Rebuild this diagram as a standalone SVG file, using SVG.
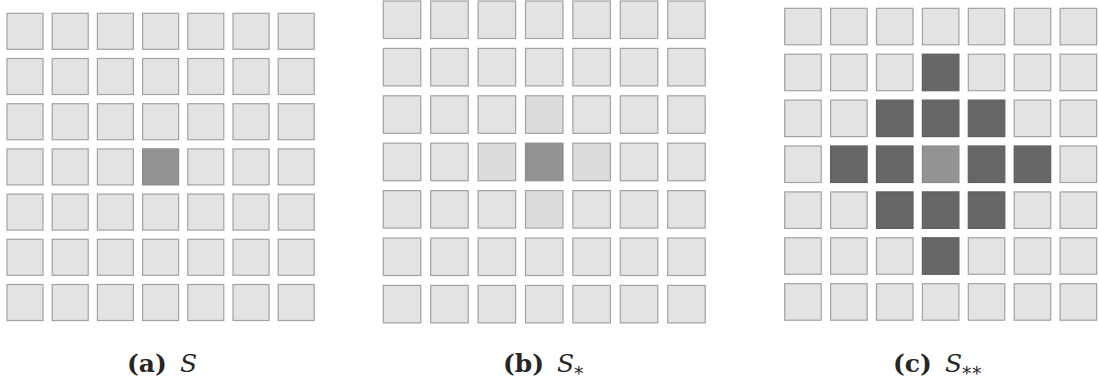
<svg xmlns="http://www.w3.org/2000/svg" width="1099" height="385" viewBox="0 0 1099 385">
<style>
rect{fill:#e3e3e3;stroke:#a2a2a2;stroke-width:1.2}
.a rect{width:36px;height:36px}
.b rect{width:37.5px;height:37.5px}
.c rect{width:36.5px;height:36.5px}
rect.m{fill:#939393;stroke:#8a8a8a}
rect.n{fill:#dcdcdc}
rect.d{fill:#676767;stroke:#5e5e5e}
text{font-family:"DejaVu Serif","Liberation Serif",serif;font-size:25px;fill:#262626}
.lb{font-weight:bold}
.it{font-style:italic}
.sub{font-size:18px}
</style>
<rect width="1099" height="385" style="fill:#fff;stroke:none"/>
<g id="panel-a" class="a">
<rect x="7" y="13.3"/><rect x="52.2" y="13.3"/><rect x="97.4" y="13.3"/><rect x="142.6" y="13.3"/><rect x="187.8" y="13.3"/><rect x="233" y="13.3"/><rect x="278.2" y="13.3"/>
<rect x="7" y="58.5"/><rect x="52.2" y="58.5"/><rect x="97.4" y="58.5"/><rect x="142.6" y="58.5"/><rect x="187.8" y="58.5"/><rect x="233" y="58.5"/><rect x="278.2" y="58.5"/>
<rect x="7" y="103.7"/><rect x="52.2" y="103.7"/><rect x="97.4" y="103.7"/><rect x="142.6" y="103.7"/><rect x="187.8" y="103.7"/><rect x="233" y="103.7"/><rect x="278.2" y="103.7"/>
<rect x="7" y="148.9"/><rect x="52.2" y="148.9"/><rect x="97.4" y="148.9"/><rect class="m" x="142.6" y="148.9"/><rect x="187.8" y="148.9"/><rect x="233" y="148.9"/><rect x="278.2" y="148.9"/>
<rect x="7" y="194.1"/><rect x="52.2" y="194.1"/><rect x="97.4" y="194.1"/><rect x="142.6" y="194.1"/><rect x="187.8" y="194.1"/><rect x="233" y="194.1"/><rect x="278.2" y="194.1"/>
<rect x="7" y="239.3"/><rect x="52.2" y="239.3"/><rect x="97.4" y="239.3"/><rect x="142.6" y="239.3"/><rect x="187.8" y="239.3"/><rect x="233" y="239.3"/><rect x="278.2" y="239.3"/>
<rect x="7" y="284.5"/><rect x="52.2" y="284.5"/><rect x="97.4" y="284.5"/><rect x="142.6" y="284.5"/><rect x="187.8" y="284.5"/><rect x="233" y="284.5"/><rect x="278.2" y="284.5"/>
</g>
<g id="panel-b" class="b">
<rect x="383.3" y="1"/><rect x="430.7" y="1"/><rect x="478.1" y="1"/><rect x="525.5" y="1"/><rect x="572.9" y="1"/><rect x="620.3" y="1"/><rect x="667.7" y="1"/>
<rect x="383.3" y="48.4"/><rect x="430.7" y="48.4"/><rect x="478.1" y="48.4"/><rect x="525.5" y="48.4"/><rect x="572.9" y="48.4"/><rect x="620.3" y="48.4"/><rect x="667.7" y="48.4"/>
<rect x="383.3" y="95.8"/><rect x="430.7" y="95.8"/><rect x="478.1" y="95.8"/><rect class="n" x="525.5" y="95.8"/><rect x="572.9" y="95.8"/><rect x="620.3" y="95.8"/><rect x="667.7" y="95.8"/>
<rect x="383.3" y="143.2"/><rect x="430.7" y="143.2"/><rect class="n" x="478.1" y="143.2"/><rect class="m" x="525.5" y="143.2"/><rect class="n" x="572.9" y="143.2"/><rect x="620.3" y="143.2"/><rect x="667.7" y="143.2"/>
<rect x="383.3" y="190.6"/><rect x="430.7" y="190.6"/><rect x="478.1" y="190.6"/><rect class="n" x="525.5" y="190.6"/><rect x="572.9" y="190.6"/><rect x="620.3" y="190.6"/><rect x="667.7" y="190.6"/>
<rect x="383.3" y="238"/><rect x="430.7" y="238"/><rect x="478.1" y="238"/><rect x="525.5" y="238"/><rect x="572.9" y="238"/><rect x="620.3" y="238"/><rect x="667.7" y="238"/>
<rect x="383.3" y="285.4"/><rect x="430.7" y="285.4"/><rect x="478.1" y="285.4"/><rect x="525.5" y="285.4"/><rect x="572.9" y="285.4"/><rect x="620.3" y="285.4"/><rect x="667.7" y="285.4"/>
</g>
<g id="panel-c" class="c">
<rect x="784.7" y="8.3"/><rect x="830.6" y="8.3"/><rect x="876.5" y="8.3"/><rect x="922.4" y="8.3"/><rect x="968.3" y="8.3"/><rect x="1014.2" y="8.3"/><rect x="1060.1" y="8.3"/>
<rect x="784.7" y="54.2"/><rect x="830.6" y="54.2"/><rect x="876.5" y="54.2"/><rect class="d" x="922.4" y="54.2"/><rect x="968.3" y="54.2"/><rect x="1014.2" y="54.2"/><rect x="1060.1" y="54.2"/>
<rect x="784.7" y="100.1"/><rect x="830.6" y="100.1"/><rect class="d" x="876.5" y="100.1"/><rect class="d" x="922.4" y="100.1"/><rect class="d" x="968.3" y="100.1"/><rect x="1014.2" y="100.1"/><rect x="1060.1" y="100.1"/>
<rect x="784.7" y="146"/><rect class="d" x="830.6" y="146"/><rect class="d" x="876.5" y="146"/><rect class="m" x="922.4" y="146"/><rect class="d" x="968.3" y="146"/><rect class="d" x="1014.2" y="146"/><rect x="1060.1" y="146"/>
<rect x="784.7" y="191.9"/><rect x="830.6" y="191.9"/><rect class="d" x="876.5" y="191.9"/><rect class="d" x="922.4" y="191.9"/><rect class="d" x="968.3" y="191.9"/><rect x="1014.2" y="191.9"/><rect x="1060.1" y="191.9"/>
<rect x="784.7" y="237.8"/><rect x="830.6" y="237.8"/><rect x="876.5" y="237.8"/><rect class="d" x="922.4" y="237.8"/><rect x="968.3" y="237.8"/><rect x="1014.2" y="237.8"/><rect x="1060.1" y="237.8"/>
<rect x="784.7" y="283.7"/><rect x="830.6" y="283.7"/><rect x="876.5" y="283.7"/><rect x="922.4" y="283.7"/><rect x="968.3" y="283.7"/><rect x="1014.2" y="283.7"/><rect x="1060.1" y="283.7"/>
</g>
<g id="captions">
<text x="127" y="372"><tspan class="lb">(a)</tspan><tspan class="it" x="180">S</tspan></text>
<text x="503" y="372"><tspan class="lb">(b)</tspan><tspan class="it" x="557">S</tspan><tspan class="sub" dx="0" dy="8">*</tspan></text>
<text x="893" y="372"><tspan class="lb">(c)</tspan><tspan class="it" x="945">S</tspan><tspan class="sub" dx="0" dy="8" letter-spacing="1">**</tspan></text>
</g>
</svg>
